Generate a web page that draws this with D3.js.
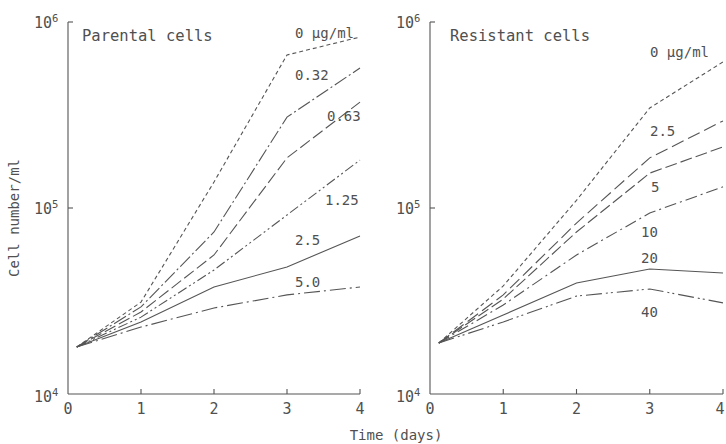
<!DOCTYPE html>
<html>
<head>
<meta charset="utf-8">
<script src="https://cdn.jsdelivr.net/npm/d3@7"></script>
<style>
  body { margin: 0; background: #fff; }
  svg { display: block; }
  text { font-family: "DejaVu Sans Mono", "Liberation Mono", monospace; fill: #505050; }
</style>
</head>
<body>
<div id="chart"></div>
<script>
// sampling days (first count taken shortly after seeding)
var days = [0.12, 1, 2, 3, 4];

// parental cells, cells/ml per drug concentration
var parentalDoses = ["0 \u00b5g/ml", "0.32", "0.63", "1.25", "2.5", "5.0"];
var parental0    = [17900, 31200, 138000, 665000, 830000];
var parental032  = [17900, 29400, 74300, 308000, 566000];
var parental063  = [17900, 27600, 55900, 186000, 371000];
var parental125  = [17900, 25900, 46400, 91700, 181000];
var parental25   = [17900, 24400, 37600, 48200, 70700];
var parental50   = [17900, 22900, 29000, 34100, 37600];

// resistant cells
var resistantDoses = ["0 \u00b5g/ml", "2.5", "5", "10", "20", "40"];
var resistant0   = [18800, 38100, 110000, 345000, 610000];
var resistant25  = [18800, 34100, 83000, 186000, 294000];
var resistant5   = [18800, 32400, 74300, 154000, 213000];
var resistant10  = [18800, 30100, 55900, 94000, 130000];
var resistant20  = [18800, 26600, 39500, 47000, 44700];
var resistant40  = [18800, 24400, 33600, 36700, 30900];

var xTicks = [0, 1, 2, 3, 4];
var yTicks = [1e4, 1e5, 1e6];

var W = 726, H = 444;
var svg = d3.select("#chart").append("svg")
  .attr("width", W)
  .attr("height", H);

var ink = "#555";

// dash pattern for each curve, top to bottom
var leftDash = ["4,3", "14,3,2,3", "12,4", "10,3,2,3,2,3", null, "16,4,2,4"];
var rightDash = ["4,3", "13,5", "12,4", "12,4,2,4", null, "16,4,2,3,2,4"];

// label positions (left x, baseline y) for dose labels
var leftLabelPos = [[295, 38], [295, 80], [327, 121], [325, 205], [295, 245], [295, 287]];
var rightLabelPos = [[650, 57], [650, 136], [651, 192], [641, 237], [641, 263], [641, 317]];

function drawPanel(x0, x1, title, titleX, series, doses, dashes, labelPos) {
  var x = d3.scaleLinear().domain([0, 4]).range([x0, x1]);
  var y = d3.scaleLog().domain([1e4, 1e6]).range([394, 22]);

  var g = svg.append("g");

  // axes lines
  g.append("line")
    .attr("x1", x0).attr("x2", x0)
    .attr("y1", y(1e6)).attr("y2", y(1e4))
    .attr("stroke", ink).attr("stroke-width", 1.1);
  g.append("line")
    .attr("x1", x0).attr("x2", x1)
    .attr("y1", y(1e4)).attr("y2", y(1e4))
    .attr("stroke", ink).attr("stroke-width", 1.1);

  // y ticks point inward
  g.selectAll(".ytick")
    .data(yTicks.slice(1))
    .enter().append("line")
    .attr("x1", x0).attr("x2", x0 + 5)
    .attr("y1", function (d) { return y(d); })
    .attr("y2", function (d) { return y(d); })
    .attr("stroke", ink).attr("stroke-width", 1.1);

  // y tick labels as 10 with superscript exponent
  yTicks.forEach(function (d) {
    var t = g.append("text")
      .attr("x", x0 - 34)
      .attr("y", y(d) + (d == 1e4 ? 8 : 6))
      .style("font-size", "15px");
    t.append("tspan").text("10");
    t.append("tspan")
      .attr("dy", -6)
      .style("font-size", "10.5px")
      .text(Math.round(Math.log10(d)));
  });

  // x ticks point upward
  g.selectAll(".xtick")
    .data(xTicks.slice(1))
    .enter().append("line")
    .attr("x1", function (d) { return x(d); })
    .attr("x2", function (d) { return x(d); })
    .attr("y1", y(1e4)).attr("y2", y(1e4) - 5)
    .attr("stroke", ink).attr("stroke-width", 1.1);

  g.selectAll(".xlab")
    .data(xTicks)
    .enter().append("text")
    .attr("x", function (d) { return Math.min(x(d), W - 6); })
    .attr("y", 414)
    .attr("text-anchor", "middle")
    .style("font-size", "15px")
    .text(function (d) { return d; });

  // title
  g.append("text")
    .attr("x", titleX).attr("y", 41)
    .style("font-size", "15.5px")
    .text(title);

  var line = d3.line()
    .x(function (d, i) { return x(days[i]); })
    .y(function (d) { return y(d); });

  series.forEach(function (s, i) {
    g.append("path")
      .datum(s)
      .attr("d", line)
      .attr("fill", "none")
      .attr("stroke", ink)
      .attr("stroke-width", 1.1)
      .attr("stroke-dasharray", dashes[i]);
  });

  doses.forEach(function (d, i) {
    g.append("text")
      .attr("x", labelPos[i][0])
      .attr("y", labelPos[i][1])
      .style("font-size", "14px")
      .text(d);
  });
}

drawPanel(68, 360, "Parental cells", 82,
  [parental0, parental032, parental063, parental125, parental25, parental50],
  parentalDoses, leftDash, leftLabelPos);

drawPanel(430, 723, "Resistant cells", 450,
  [resistant0, resistant25, resistant5, resistant10, resistant20, resistant40],
  resistantDoses, rightDash, rightLabelPos);

// axis titles
svg.append("text")
  .attr("transform", "translate(19,218) rotate(-90)")
  .attr("text-anchor", "middle")
  .style("font-size", "14px")
  .text("Cell number/ml");

svg.append("text")
  .attr("x", 396).attr("y", 440)
  .attr("text-anchor", "middle")
  .style("font-size", "14px")
  .text("Time (days)");
</script>
</body>
</html>
